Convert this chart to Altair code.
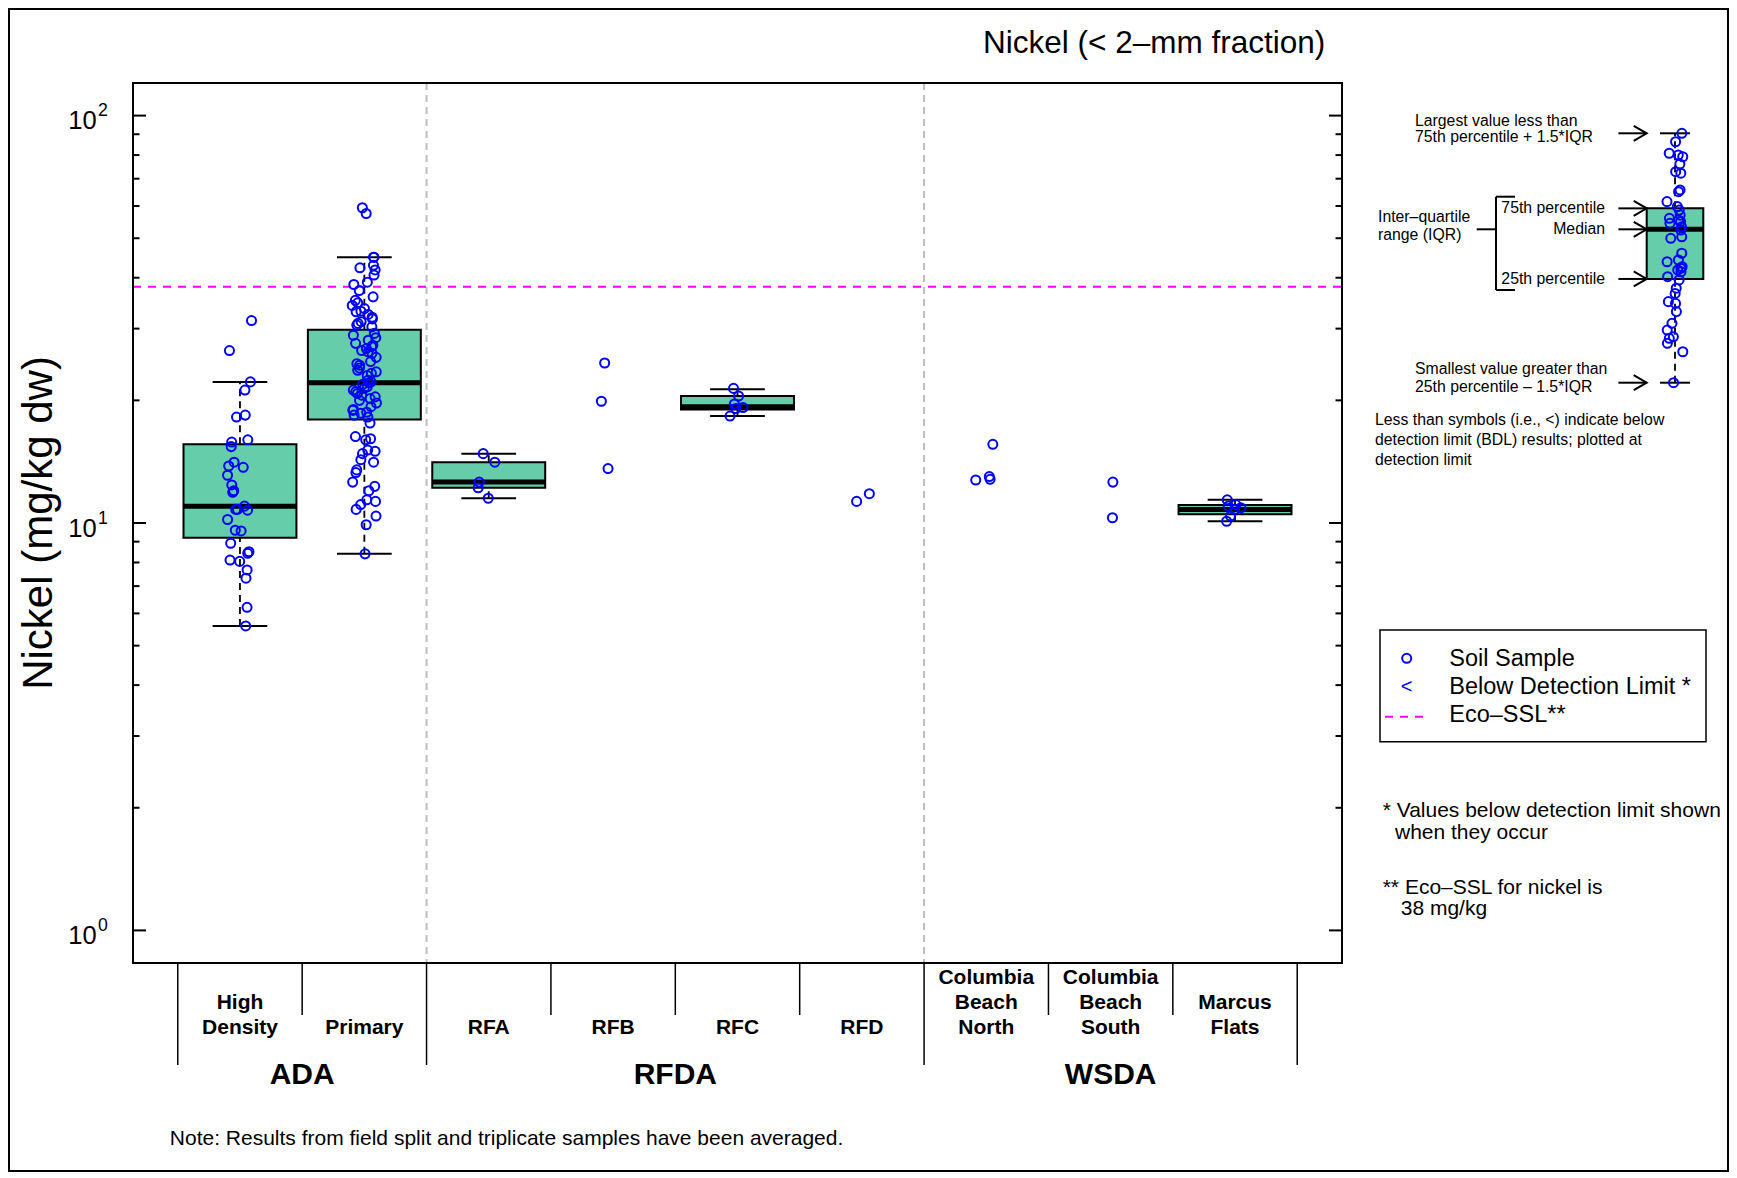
import altair as alt
import pandas as pd

FONT = "Liberation Sans"

# ---------------- data ----------------
categories = ["High Density", "Primary", "RFA", "RFB", "RFC", "RFD",
              "Columbia Beach North", "Columbia Beach South", "Marcus Flats"]
category_lines = [["High", "Density"], ["Primary"], ["RFA"], ["RFB"], ["RFC"], ["RFD"],
                  ["Columbia", "Beach", "North"], ["Columbia", "Beach", "South"],
                  ["Marcus", "Flats"]]
groups = ["ADA", "ADA", "RFDA", "RFDA", "RFDA", "RFDA", "WSDA", "WSDA", "WSDA"]

high_density = [31.4, 26.5, 22.2, 21.2, 18.4, 18.2, 16.0, 15.8, 15.4, 14.1, 13.8, 13.7,
                13.1, 12.4, 12.0, 11.9, 11.0, 10.8, 10.8, 10.75, 10.2, 9.6, 9.56, 8.92,
                8.5, 8.43, 8.11, 8.05, 7.67, 7.32, 6.21, 5.59]
primary = [59.4, 57.5, 44.9, 44.9, 42.9, 42.3, 41.8, 40.6, 39.0, 38.5, 37.2, 35.9, 35.2,
           34.7, 34.2, 33.6, 33.1, 33.0, 32.5, 32.0, 31.7, 31.2, 30.9, 30.6, 30.3, 29.2,
           28.9, 28.5, 28.1, 27.6, 27.3, 27.1, 26.8, 26.5, 26.3, 26.1, 25.5, 24.9, 24.6,
           24.4, 24.0, 23.7, 23.5, 23.3, 23.0, 22.4, 22.2, 22.1, 21.9, 21.6, 21.4, 21.2,
           21.0, 20.8, 20.6, 20.4, 20.2, 20.0, 19.7, 19.3, 19.0, 18.9, 18.7, 18.6, 18.4,
           18.2, 17.6, 16.3, 16.1, 16.0, 15.1, 15.0, 14.8, 14.3, 14.1, 13.5, 13.3, 12.6,
           12.3, 12.0, 11.4, 11.3, 11.1, 10.8, 10.4, 9.9, 8.4]
rfa = [14.8, 14.1, 12.6, 12.2, 11.5]
rfb = [24.7, 19.9, 13.6]
rfc = [21.4, 20.5, 19.6, 19.2, 19.1, 18.3]
rfd = [11.8, 11.3]
cb_north = [15.6, 13.0, 12.8, 12.75]
cb_south = [12.6, 10.3]
marcus_flats = [11.4, 11.1, 11.0, 10.9, 10.8, 10.4, 10.1]
samples = [high_density, primary, rfa, rfb, rfc, rfd, cb_north, cb_south, marcus_flats]

box_categories = ["High Density", "Primary", "RFA", "RFC", "Marcus Flats"]
box_low = [5.59, 8.4, 11.5, 18.3, 10.1]
box_q1 = [9.2, 17.96, 12.2, 19.0, 10.5]
box_median = [11.0, 22.1, 12.6, 19.3, 10.8]
box_q3 = [15.6, 29.8, 14.1, 20.5, 11.07]
box_high = [22.2, 44.9, 14.8, 21.3, 11.4]

eco_ssl = [38.0]

y_ticks = [1, 2, 3, 4, 5, 6, 7, 8, 9, 10, 20, 30, 40, 50, 60, 70, 80, 90, 100]
y_major = [1, 10, 100]
y_label_base = "10"
y_label_exp = ["0", "1", "2"]

# schematic (explanation) box plot
inset_points = [100, 96.6, 92.0, 91.3, 90.6, 87.7, 84.6, 84.0, 77.3, 76.6, 72.6, 70.6,
                69.2, 67.2, 65.9, 65.2, 64.6, 63.9, 62.5, 61.2, 58.5, 57.9, 51.9, 49.2,
                48.5, 46.5, 45.9, 45.2, 44.5, 42.5, 41.2, 37.9, 35.8, 32.5, 31.8, 28.5,
                23.8, 21.1, 18.4, 17.8, 15.8, 12.4, 0]
inset_names = ["hi", "q3", "med", "q1", "lo"]
inset_stats = [100, 69.9, 61.5, 41.6, 0]
inset_level_labels = ["", "75th percentile", "Median", "25th percentile", ""]

title_text = "Nickel (< 2\u2013mm fraction)"
y_title = "Nickel (mg/kg dw)"
note_text = "Note: Results from field split and triplicate samples have been averaged."
legend_labels = ["Soil Sample", "Below Detection Limit *", "Eco\u2013SSL**"]

# ---------------- tables ----------------
rows = []
k = 0
for i, vals in enumerate(samples):
    for v in vals:
        rows.append({"idx": i + 1, "v": v, "k": k})
        k += 1
points_df = pd.DataFrame(rows)

box_df = pd.DataFrame({
    "idx": [categories.index(c) + 1 for c in box_categories],
    "lo": box_low, "q1": box_q1, "med": box_median, "q3": box_q3, "hi": box_high,
})

cat_df = pd.DataFrame({"idx": list(range(1, len(categories) + 1)), "cat": categories,
                       "group": groups})

line_rows = []
for i, lines in enumerate(category_lines):
    for j, t in enumerate(reversed(lines)):
        line_rows.append({"idx": i + 1, "k": j, "txt": t})
lines_df = pd.DataFrame(line_rows)

n = len(categories)
bound_rows = []
for i in range(n + 1):
    is_long = i == 0 or i == n or groups[i - 1] != groups[i]
    bound_rows.append({"b": i + 0.5, "long": bool(is_long)})
bounds_df = pd.DataFrame(bound_rows)

ticks_df = pd.DataFrame({"v": y_ticks, "major": [t in y_major for t in y_ticks]})
ylab_df = pd.DataFrame({"v": y_major, "base": [y_label_base] * 3, "exp": y_label_exp})

inset_pts_df = pd.DataFrame({"v": inset_points, "k": list(range(len(inset_points)))})
inset_box_df = pd.DataFrame([dict(zip(inset_names, inset_stats))])
inset_lvl_df = pd.DataFrame({"name": inset_names, "v": inset_stats, "label": inset_level_labels})

# ---------------- scales ----------------
W, H = 1209, 880
xs = alt.Scale(domain=[0.14, 9.86], nice=False, zero=False)
ys = alt.Scale(type="log", domain=[10 ** -0.08, 10 ** 2.08], nice=False)


def X(f):
    return alt.X(f, scale=xs, axis=None)


def Y(f):
    return alt.Y(f, scale=ys, axis=None)


def text(t, x, y, size, align="left", baseline="middle", weight="normal",
         color="black", angle=0):
    return alt.Chart(pd.DataFrame({"t": [t]})).mark_text(
        font=FONT, fontSize=size, align=align, baseline=baseline,
        fontWeight=weight, color=color, angle=angle
    ).encode(x=alt.value(x), y=alt.value(y), text="t:N")


one = pd.DataFrame({"a": [0]})

# ---------------- main plot ----------------
outer_frame = alt.Chart(one).mark_rect(fillOpacity=0, stroke="black", strokeWidth=2).encode(
    x=alt.value(-124), x2=alt.value(1595), y=alt.value(-74), y2=alt.value(1088))
plot_frame = alt.Chart(one).mark_rect(fillOpacity=0, stroke="black", strokeWidth=2).encode(
    x=alt.value(0), x2=alt.value(W), y=alt.value(0), y2=alt.value(H))

vsep = alt.Chart(bounds_df).transform_filter(
    "datum.long && datum.b > 1 && datum.b < 9"
).mark_rule(color="#BEBEBE", strokeWidth=2, strokeDash=[7, 5]).encode(
    x=X("b:Q"), y=alt.value(0), y2=alt.value(H))

eco = alt.Chart(pd.DataFrame({"v": eco_ssl})).mark_rule(
    color="#FF00FF", strokeWidth=2, strokeDash=[8, 7]).encode(
    y=Y("v:Q"), x=alt.value(0), x2=alt.value(W))

box_base = alt.Chart(box_df).transform_calculate(
    bl="datum.idx - 0.454", br="datum.idx + 0.454",
    cl="datum.idx - 0.22", cr="datum.idx + 0.22")
whisk_up = box_base.mark_rule(color="black", strokeWidth=1.8, strokeDash=[7, 5]).encode(
    x=X("idx:Q"), y=Y("q3:Q"), y2="hi:Q")
whisk_dn = box_base.mark_rule(color="black", strokeWidth=1.8, strokeDash=[7, 5]).encode(
    x=X("idx:Q"), y=Y("lo:Q"), y2="q1:Q")
cap_hi = box_base.mark_rule(color="black", strokeWidth=2).encode(
    x=X("cl:Q"), x2="cr:Q", y=Y("hi:Q"))
cap_lo = box_base.mark_rule(color="black", strokeWidth=2).encode(
    x=X("cl:Q"), x2="cr:Q", y=Y("lo:Q"))
boxes = box_base.mark_rect(fill="#66CDAA", stroke="black", strokeWidth=2).encode(
    x=X("bl:Q"), x2="br:Q", y=Y("q1:Q"), y2="q3:Q")
medians = box_base.mark_rule(color="black", strokeWidth=5).encode(
    x=X("bl:Q"), x2="br:Q", y=Y("med:Q"))

points = alt.Chart(points_df).transform_calculate(
    jx="datum.idx + 0.2 * ((abs(sin(datum.k * 12.9898 + 0.5) * 43758.5453) % 1) - 0.5)"
).mark_point(shape="circle", filled=False, color="#0000FF", size=82,
             strokeWidth=2, opacity=1).encode(x=X("jx:Q"), y=Y("v:Q"))

tick_base = alt.Chart(ticks_df)
tick_l_major = tick_base.transform_filter("datum.major").mark_rule(
    color="black", strokeWidth=2).encode(y=Y("v:Q"), x=alt.value(0), x2=alt.value(13))
tick_l_minor = tick_base.transform_filter("!datum.major").mark_rule(
    color="black", strokeWidth=2).encode(y=Y("v:Q"), x=alt.value(0), x2=alt.value(6.5))
tick_r_major = tick_base.transform_filter("datum.major").mark_rule(
    color="black", strokeWidth=2).encode(y=Y("v:Q"), x=alt.value(W - 13), x2=alt.value(W))
tick_r_minor = tick_base.transform_filter("!datum.major").mark_rule(
    color="black", strokeWidth=2).encode(y=Y("v:Q"), x=alt.value(W - 6.5), x2=alt.value(W))

ylab_base = alt.Chart(ylab_df).mark_text(
    font=FONT, fontSize=25.5, align="right", baseline="alphabetic", dy=13.5).encode(
    y=Y("v:Q"), x=alt.value(-36.3), text="base:N")
ylab_exp = alt.Chart(ylab_df).mark_text(
    font=FONT, fontSize=17.7, align="left", baseline="alphabetic", dy=0.5).encode(
    y=Y("v:Q"), x=alt.value(-35), text="exp:N")

cat_label_layers = []
for j in range(3):
    cat_label_layers.append(
        alt.Chart(lines_df).transform_filter(f"datum.k == {j}").mark_text(
            font=FONT, fontSize=21, fontWeight="bold", align="center", baseline="middle"
        ).encode(x=X("idx:Q"), y=alt.value(944.5 - 24.9 * j), text="txt:N"))

group_labels = alt.Chart(cat_df).transform_aggregate(
    cx="mean(idx)", groupby=["group"]
).mark_text(font=FONT, fontSize=30, fontWeight="bold", align="center", baseline="middle").encode(
    x=X("cx:Q"), y=alt.value(991.5), text="group:N")

sep_short = alt.Chart(bounds_df).transform_filter("!datum.long").mark_rule(
    color="black", strokeWidth=1.5).encode(x=X("b:Q"), y=alt.value(H), y2=alt.value(932))
sep_long = alt.Chart(bounds_df).transform_filter("datum.long").mark_rule(
    color="black", strokeWidth=1.5).encode(x=X("b:Q"), y=alt.value(H), y2=alt.value(982))

# legend box
legend_frame = alt.Chart(one).mark_rect(fillOpacity=0, stroke="black", strokeWidth=1.5).encode(
    x=alt.value(1247), x2=alt.value(1573), y=alt.value(547), y2=alt.value(658.7))
legend_circle = alt.Chart(one).mark_point(
    shape="circle", filled=False, color="#0000FF", size=82, strokeWidth=2, opacity=1
).encode(x=alt.value(1273.7), y=alt.value(575.3))
legend_dash = alt.Chart(one).mark_rule(color="#FF00FF", strokeWidth=2, strokeDash=[8, 7]).encode(
    x=alt.value(1252), x2=alt.value(1294), y=alt.value(633.7))

texts = [
    text(title_text, 1021.2, -30.3, 31.5, align="center", baseline="alphabetic"),
    text(y_title, -94.2, 440, 42, align="center", angle=270),
    text(note_text, 36.8, 1056.3, 21),
    text("<", 1273.7, 603.7, 20, align="center", color="#0000FF"),
    text(legend_labels[0], 1316.3, 576, 23.5),
    text(legend_labels[1], 1316.3, 604, 23.5),
    text(legend_labels[2], 1316.3, 632, 23.5),
    text("* Values below detection limit shown", 1249.7, 727.7, 21),
    text("when they occur", 1262, 750.3, 21),
    text("** Eco\u2013SSL for nickel is", 1249.7, 805.3, 21),
    text("38 mg/kg", 1267.7, 826.3, 21),
    text("Largest value less than", 1282, 37.7, 15.8),
    text("75th percentile + 1.5*IQR", 1282, 54.3, 15.8),
    text("Inter\u2013quartile", 1245, 133.7, 15.8),
    text("range (IQR)", 1245, 152, 15.8),
    text("Smallest value greater than", 1282, 286.3, 15.8),
    text("25th percentile \u2013 1.5*IQR", 1282, 303.7, 15.8),
    text("Less than symbols (i.e., <) indicate below", 1242, 337, 15.8),
    text("detection limit (BDL) results; plotted at", 1242, 357, 15.8),
    text("detection limit", 1242, 377, 15.8),
]

bracket = [
    alt.Chart(one).mark_rule(color="black", strokeWidth=2).encode(
        x=alt.value(1363), y=alt.value(113.7), y2=alt.value(207)),
    alt.Chart(one).mark_rule(color="black", strokeWidth=2).encode(
        x=alt.value(1363), x2=alt.value(1382), y=alt.value(113.7)),
    alt.Chart(one).mark_rule(color="black", strokeWidth=2).encode(
        x=alt.value(1363), x2=alt.value(1382), y=alt.value(207)),
    alt.Chart(one).mark_rule(color="black", strokeWidth=2).encode(
        x=alt.value(1343.7), x2=alt.value(1363), y=alt.value(146.3)),
]

main = alt.layer(
    outer_frame, vsep, eco, whisk_up, whisk_dn, cap_hi, cap_lo, boxes, medians, points,
    plot_frame, tick_l_major, tick_l_minor, tick_r_major, tick_r_minor, ylab_base, ylab_exp,
    *cat_label_layers, group_labels, sep_short, sep_long,
    legend_frame, legend_circle, legend_dash, *texts, *bracket,
)

# ---------------- schematic box plot ----------------
ixs = alt.Scale(domain=[-1, 1], range=[1513.7, 1570.3], nice=False, zero=False)
iys = alt.Scale(domain=[0, 100], range=[299.7, 50.3], nice=False, zero=False)


def IX(f):
    return alt.X(f, scale=ixs, axis=None)


def IY(f):
    return alt.Y(f, scale=iys, axis=None)


ib = alt.Chart(inset_box_df).transform_calculate(
    c="0", bl="-1", br="1", cl="-0.53", cr="0.53")
i_wu = ib.mark_rule(color="black", strokeWidth=1.8, strokeDash=[7, 5]).encode(
    x=IX("c:Q"), y=IY("q3:Q"), y2="hi:Q")
i_wd = ib.mark_rule(color="black", strokeWidth=1.8, strokeDash=[7, 5]).encode(
    x=IX("c:Q"), y=IY("lo:Q"), y2="q1:Q")
i_ch = ib.mark_rule(color="black", strokeWidth=2).encode(x=IX("cl:Q"), x2="cr:Q", y=IY("hi:Q"))
i_cl = ib.mark_rule(color="black", strokeWidth=2).encode(x=IX("cl:Q"), x2="cr:Q", y=IY("lo:Q"))
i_box = ib.mark_rect(fill="#66CDAA", stroke="black", strokeWidth=2).encode(
    x=IX("bl:Q"), x2="br:Q", y=IY("q1:Q"), y2="q3:Q")
i_med = ib.mark_rule(color="black", strokeWidth=5).encode(x=IX("bl:Q"), x2="br:Q", y=IY("med:Q"))
i_pts = alt.Chart(inset_pts_df).transform_calculate(
    jx="0.6 * ((abs(sin(datum.k * 78.233 + 1.3) * 43758.5453) % 1) - 0.5)"
).mark_point(shape="circle", filled=False, color="#0000FF", size=82, strokeWidth=2,
             opacity=1).encode(x=IX("jx:Q"), y=IY("v:Q"))
il = alt.Chart(inset_lvl_df).transform_calculate(a0="-2", a1="-1")
i_shaft = il.mark_rule(color="black", strokeWidth=2).encode(x=IX("a0:Q"), x2="a1:Q", y=IY("v:Q"))
i_head = il.mark_point(shape="M -1 -0.58 L 0 0 L -1 0.58", filled=False, color="black",
                       strokeWidth=2, size=676, opacity=1).encode(x=IX("a1:Q"), y=IY("v:Q"))
i_lbl = il.transform_filter("datum.label != ''").mark_text(
    font=FONT, fontSize=15.8, align="right", baseline="middle").encode(
    x=alt.value(1472), y=IY("v:Q"), text="label:N")

inset = alt.layer(i_wu, i_wd, i_ch, i_cl, i_box, i_med, i_pts, i_shaft, i_head, i_lbl)

chart = alt.layer(main, inset).resolve_scale(x="independent", y="independent").properties(
    width=W, height=H,
    autosize=alt.AutoSizeParams(type="none"),
    padding={"left": 125, "top": 75, "right": 387, "bottom": 211},
    background="white",
).configure_view(stroke=None)

chart.save("out.html", embed_options={"renderer": "svg", "actions": False})
